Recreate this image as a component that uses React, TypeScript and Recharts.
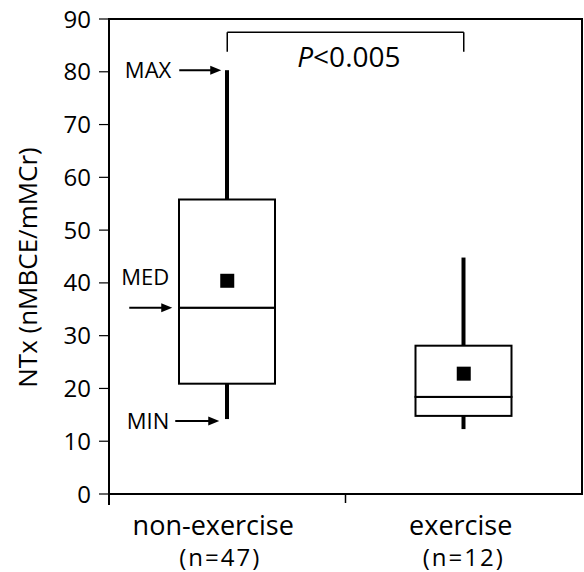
import React from 'react';
import {
  ComposedChart,
  Bar,
  Scatter,
  XAxis,
  YAxis,
  ReferenceArea,
  ReferenceLine,
  ReferenceDot,
} from 'recharts';

const categories = ['non-exercise', 'exercise'];
const sampleSizes = ['(n=47)', '(n=12)'];
const minValues = [14.2, 12.3];
const q1Values = [20.9, 14.8];
const medianValues = [35.3, 18.4];
const q3Values = [55.8, 28.1];
const maxValues = [80.3, 44.8];
const meanValues = [40.4, 22.8];
const yTicks = [0, 10, 20, 30, 40, 50, 60, 70, 80, 90];

const yLabel = 'NTx (nMBCE/mMCr)';
const pLetter = 'P';
const pRest = '<0.005';
const bracketLevel = 87.5;
const bracketDrop = 83.8;

const FONT = '"Open Sans", sans-serif';

const data = categories.map((name, i) => ({
  name,
  n: sampleSizes[i],
  base: minValues[i],
  lowWhisker: q1Values[i] - minValues[i],
  lowBox: medianValues[i] - q1Values[i],
  highBox: q3Values[i] - medianValues[i],
  highWhisker: maxValues[i] - q3Values[i],
  mean: meanValues[i],
}));

// label nudges so the two-line category text sits like the original
const labelDx = [[-14, -7], [-3, 0]];

const Nothing = () => null;

const Whisker = (props: any) => {
  const { x, y, width, height } = props;
  const mx = x + width / 2;
  return <line x1={mx} x2={mx} y1={y} y2={y + height} stroke="#000" strokeWidth={4} />;
};

const BoxPart = (props: any) => {
  const { x, y, width, height } = props;
  return <rect x={x} y={y} width={width} height={height} fill="#fff" stroke="#000" strokeWidth={2} />;
};

const MeanSquare = (props: any) => {
  const { cx, cy } = props;
  return <rect x={cx - 7} y={cy - 7} width={14} height={14} fill="#000" />;
};

const Arrow = ({ x1, x2, y }: { x1: number; x2: number; y: number }) => (
  <g>
    <line x1={x1} x2={x2 - 8} y1={y} y2={y} stroke="#000" strokeWidth={2} />
    <polygon points={`${x2},${y} ${x2 - 11},${y - 4.5} ${x2 - 11},${y + 4.5}`} fill="#000" />
  </g>
);

const textStyle = { fontFamily: FONT, fontSize: 22, fill: '#000' };

const MaxMark = (props: any) => {
  const { cx, cy } = props;
  return (
    <g>
      <text x={cx - 56} y={cy + 8} textAnchor="end" style={textStyle}>MAX</text>
      <Arrow x1={cx - 48} x2={cx - 6} y={cy} />
    </g>
  );
};

const MedMark = (props: any) => {
  const { cx, cy } = props;
  return (
    <g>
      <text x={cx - 58} y={cy - 23} textAnchor="end" style={textStyle}>MED</text>
      <Arrow x1={cx - 98} x2={cx - 55} y={cy} />
    </g>
  );
};

const MinMark = (props: any) => {
  const { cx, cy } = props;
  return (
    <g>
      <text x={cx - 58} y={cy + 10} textAnchor="end" style={textStyle}>MIN</text>
      <Arrow x1={cx - 52} x2={cx - 8} y={cy + 2} />
    </g>
  );
};

const PMark = (props: any) => {
  const { cx, cy } = props;
  return (
    <text x={cx + 70} y={cy + 35} style={{ fontFamily: FONT, fontSize: 28, fill: '#000' }}>
      <tspan fontStyle="italic">{pLetter}</tspan>
      <tspan>{pRest}</tspan>
    </text>
  );
};

const CategoryTick = (props: any) => {
  const { x, y, payload, index } = props;
  const half = payload && payload.offset > 10 ? payload.offset : 118;
  const dx = labelDx[index] || [0, 0];
  return (
    <g>
      {index === 0 && (
        <>
          <line x1={x - half} x2={x - half} y1={y} y2={y + 11} stroke="#000" strokeWidth={2} />
          <line x1={x + half} x2={x + half} y1={y} y2={y + 9} stroke="#000" strokeWidth={1.5} />
        </>
      )}
      <text x={x + dx[0]} y={y + 41} textAnchor="middle" style={{ fontFamily: FONT, fontSize: 27, fill: '#000' }}>
        {payload.value}
      </text>
      <text
        x={x + dx[1]}
        y={y + 72}
        textAnchor="middle"
        style={{ fontFamily: FONT, fontSize: 24, fill: '#000', letterSpacing: 2 }}
      >
        {sampleSizes[index]}
      </text>
    </g>
  );
};

const YLabel = (props: any) => {
  const vb = props.viewBox || { x: 0, y: 19, width: 109, height: 475 };
  const cx = vb.x + 37;
  const cy = vb.y + vb.height / 2 + 11;
  return (
    <text
      x={cx}
      y={cy}
      transform={`rotate(-90 ${cx} ${cy})`}
      textAnchor="middle"
      style={{ fontFamily: FONT, fontSize: 26, fill: '#000' }}
    >
      {yLabel}
    </text>
  );
};

export default function App() {
  return (
    <div style={{ position: 'absolute', left: 0, top: 0, background: '#fff' }}>
      <ComposedChart
        width={584}
        height={572}
        data={data}
        margin={{ top: 19, right: 2, left: 0, bottom: 0 }}
        barSize={96}
      >
        <XAxis
          dataKey="name"
          height={78}
          axisLine={{ stroke: '#000', strokeWidth: 2 }}
          tickLine={false}
          tickSize={0}
          tickMargin={0}
          interval={0}
          tick={<CategoryTick />}
        />
        <YAxis
          type="number"
          domain={[0, 90]}
          ticks={yTicks}
          width={109}
          axisLine={{ stroke: '#000', strokeWidth: 2 }}
          tickLine={{ stroke: '#000', strokeWidth: 1.2 }}
          tickSize={10}
          tickMargin={8}
          tick={{ fontFamily: FONT, fontSize: 24, fill: '#000' }}
          label={<YLabel />}
        />
        <ReferenceArea y1={0} y2={90} fill="none" stroke="#000" strokeWidth={2} ifOverflow="visible" />
        <Bar dataKey="base" stackId="box" shape={<Nothing />} isAnimationActive={false} />
        <Bar dataKey="lowWhisker" stackId="box" shape={<Whisker />} isAnimationActive={false} />
        <Bar dataKey="lowBox" stackId="box" shape={<BoxPart />} isAnimationActive={false} />
        <Bar dataKey="highBox" stackId="box" shape={<BoxPart />} isAnimationActive={false} />
        <Bar dataKey="highWhisker" stackId="box" shape={<Whisker />} isAnimationActive={false} />
        <Scatter dataKey="mean" shape={<MeanSquare />} isAnimationActive={false} />
        <ReferenceLine
          segment={[{ x: categories[0], y: bracketLevel }, { x: categories[1], y: bracketLevel }]}
          stroke="#000"
          strokeWidth={1.5}
        />
        <ReferenceLine
          segment={[{ x: categories[0], y: bracketLevel }, { x: categories[0], y: bracketDrop }]}
          stroke="#000"
          strokeWidth={1.5}
        />
        <ReferenceLine
          segment={[{ x: categories[1], y: bracketLevel }, { x: categories[1], y: bracketDrop }]}
          stroke="#000"
          strokeWidth={1.5}
        />
        <ReferenceDot x={categories[0]} y={bracketLevel} r={0} shape={<PMark />} />
        <ReferenceDot x={categories[0]} y={maxValues[0]} r={0} shape={<MaxMark />} />
        <ReferenceDot x={categories[0]} y={medianValues[0]} r={0} shape={<MedMark />} />
        <ReferenceDot x={categories[0]} y={minValues[0]} r={0} shape={<MinMark />} />
      </ComposedChart>
    </div>
  );
}
